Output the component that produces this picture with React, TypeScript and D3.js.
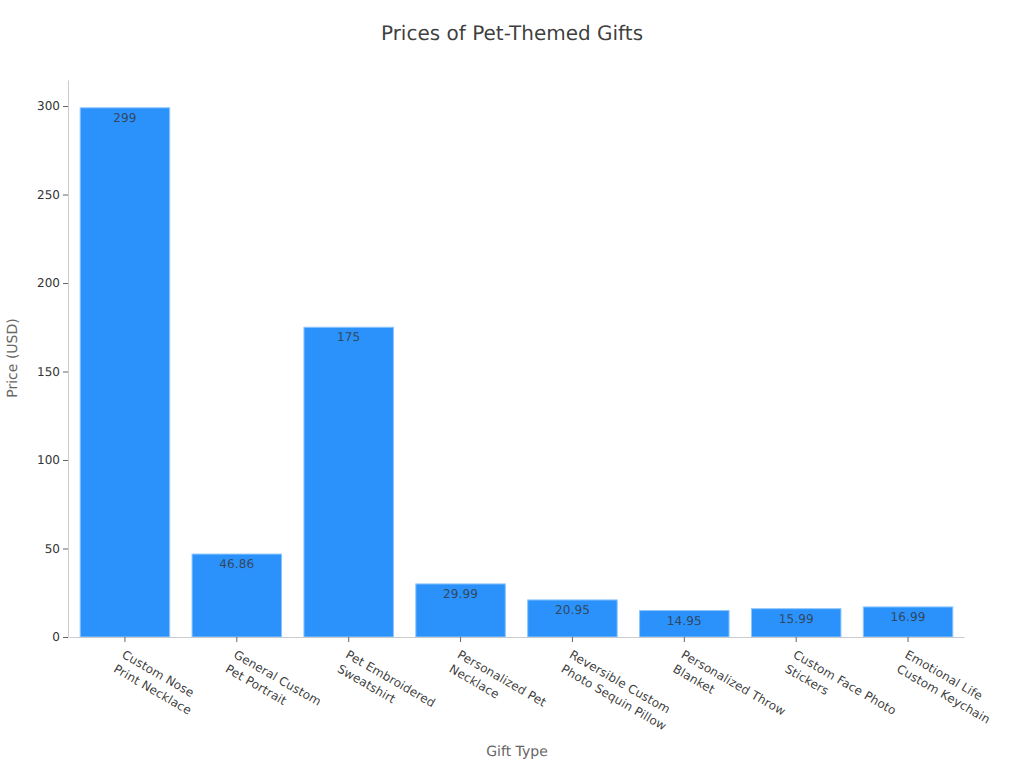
import { useEffect, useRef } from "react";
import { axisBottom, axisLeft, scaleBand, scaleLinear, select } from "d3";

const categories = [
  ["Custom Nose", "Print Necklace"],
  ["General Custom", "Pet Portrait"],
  ["Pet Embroidered", "Sweatshirt"],
  ["Personalized Pet", "Necklace"],
  ["Reversible Custom", "Photo Sequin Pillow"],
  ["Personalized Throw", "Blanket"],
  ["Custom Face Photo", "Stickers"],
  ["Emotional Life", "Custom Keychain"],
];
const prices = [299, 46.86, 175, 29.99, 20.95, 14.95, 15.99, 16.99];
const yTicks = [0, 50, 100, 150, 200, 250, 300];

const WIDTH = 1024;
const HEIGHT = 768;
const FONT = "'DejaVu Sans', sans-serif";

export default function App() {
  const svgRef = useRef<SVGSVGElement | null>(null);

  useEffect(() => {
    const svg = select(svgRef.current);
    svg.selectAll("*").remove();

    const x = scaleBand<number>()
      .domain(categories.map((_, i) => i))
      .range([69, 964])
      .paddingInner(0.2)
      .paddingOuter(0.1);
    const y = scaleLinear().domain([0, 314.7]).range([637, 80]);

    svg
      .append("text")
      .attr("x", 512)
      .attr("y", 40)
      .attr("text-anchor", "middle")
      .attr("font-size", 20)
      .attr("fill", "#333")
      .attr("fill-opacity", 0.95)
      .text("Prices of Pet-Themed Gifts");

    // bars
    svg
      .selectAll("rect")
      .data(prices)
      .join("rect")
      .attr("x", (_, i) => x(i)!)
      .attr("y", (d) => y(d))
      .attr("width", x.bandwidth())
      .attr("height", (d) => y(0) - y(d))
      .attr("fill", "#2b91fb")
      .attr("stroke", "#8cc6ff")
      .attr("stroke-width", 1);

    svg
      .selectAll("text.value")
      .data(prices)
      .join("text")
      .attr("class", "value")
      .attr("x", (_, i) => x(i)! + x.bandwidth() / 2)
      .attr("y", (d) => y(d) + 14)
      .attr("text-anchor", "middle")
      .attr("font-size", 12)
      .attr("letter-spacing", 0.15)
      .attr("fill", "#333")
      .attr("fill-opacity", 0.8)
      .text((d) => `${d}`);

    const yAxis = svg
      .append("g")
      .attr("transform", "translate(68,0)")
      .call(axisLeft(y).tickValues(yTicks).tickSize(5).tickSizeOuter(0).tickPadding(3));
    yAxis.select(".domain").attr("stroke", "#ccc");
    yAxis.selectAll(".tick line").attr("stroke", "#666");
    yAxis
      .selectAll(".tick text")
      .attr("font-family", FONT)
      .attr("font-size", 12)
      .attr("fill", "#333");

    const xAxis = svg
      .append("g")
      .attr("transform", "translate(0,637)")
      .call(axisBottom(x).tickSize(5).tickSizeOuter(0).tickFormat(() => ""));
    xAxis.select(".domain").attr("stroke", "#ccc");
    xAxis.selectAll(".tick line").attr("stroke", "#666");
    xAxis.selectAll(".tick text").remove();

    // two-line rotated category labels
    const labels = svg
      .selectAll("text.cat")
      .data(categories)
      .join("text")
      .attr("class", "cat")
      .attr("font-size", 12)
      .attr("letter-spacing", 0.1)
      .attr("fill", "#333")
      .attr("fill-opacity", 0.95)
      .attr("transform", (_, i) => `translate(${x(i)! + x.bandwidth() / 2 - 4},657) rotate(30)`);
    labels
      .selectAll("tspan")
      .data((d) => d)
      .join("tspan")
      .attr("x", 0)
      .attr("y", (_, i) => i * 16.5)
      .text((d) => d);

    svg
      .append("text")
      .attr("x", 517)
      .attr("y", 756)
      .attr("text-anchor", "middle")
      .attr("font-size", 14)
      .attr("fill", "#666")
      .text("Gift Type");

    svg
      .append("text")
      .attr("transform", "translate(17,358) rotate(-90)")
      .attr("text-anchor", "middle")
      .attr("font-size", 14)
      .attr("fill", "#666")
      .text("Price (USD)");
  }, []);

  return (
    <svg
      ref={svgRef}
      width={WIDTH}
      height={HEIGHT}
      viewBox={`0 0 ${WIDTH} ${HEIGHT}`}
      fontFamily={FONT}
      textRendering="geometricPrecision"
      style={{ position: "absolute", left: 0, top: 0, background: "#fff" }}
    />
  );
}
